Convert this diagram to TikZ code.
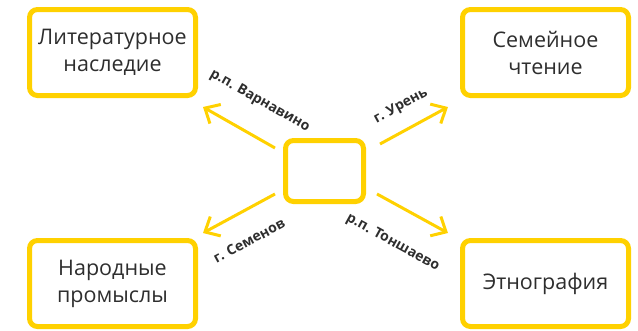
\documentclass[tikz,border=0pt]{standalone}
\usepackage{fontspec}
\setmainfont{Open Sans}
\usetikzlibrary{calc,arrows.meta}
\definecolor{zheltyj}{HTML}{FFD100}
\definecolor{tekst}{HTML}{2E2E2E}

\begin{document}
\begin{tikzpicture}[x=1pt,y=-1pt,
    box/.style={draw=zheltyj, line width=5pt, rounded corners=8pt, minimum width=166pt,
      minimum height=86pt, align=center, text=tekst, font=\fontsize{21.5}{27}\selectfont},
    arr/.style={draw=zheltyj, line width=3pt, -{Straight Barb[length=12pt,width=22pt]}},
    town/.style={sloped, inner sep=0pt, text=tekst, font=\bfseries\fontsize{14}{16}\selectfont}]
    \useasboundingbox (0,0) rectangle (638,330);% picture size
    \node[box] (lit) at (112.5,52.5) {Литературное\\наследие};
    \node[box] (sem) at (545.5,52.5) {Семейное\\чтение};
    \node[box] (nar) at (112.5,283.5) {Народные\\промыслы};
    \node[box] (etn) at (545.5,283.5) {Этнография};
    \node[box, minimum width=78pt, minimum height=61pt] (c) at (324.5,171) {};% empty centre
    % towns on the arrows
    \draw[arr] ([shift={(-8,-23)}]c.west) -- ([shift={(5,9)}]lit.south east)
        node[town, pos=0.44, above=25pt] {р.п. Варнавино};
    \draw[arr] ([shift={(14,-27)}]c.east) -- ([shift={(-12,9)}]sem.south west)
        node[town, pos=0.47, above=15pt] {г. Урень};
    \draw[arr] ([shift={(-8,23)}]c.west) -- ([shift={(5,-5)}]nar.north east)
        node[town, pos=0.55, below=22pt] {г. Семенов};
    \draw[arr] ([shift={(11,23)}]c.east) -- ([shift={(-12,-5)}]etn.north west)
        node[town, pos=0.46, below=27pt] {р.п. Тоншаево};
\end{tikzpicture}
\end{document}
